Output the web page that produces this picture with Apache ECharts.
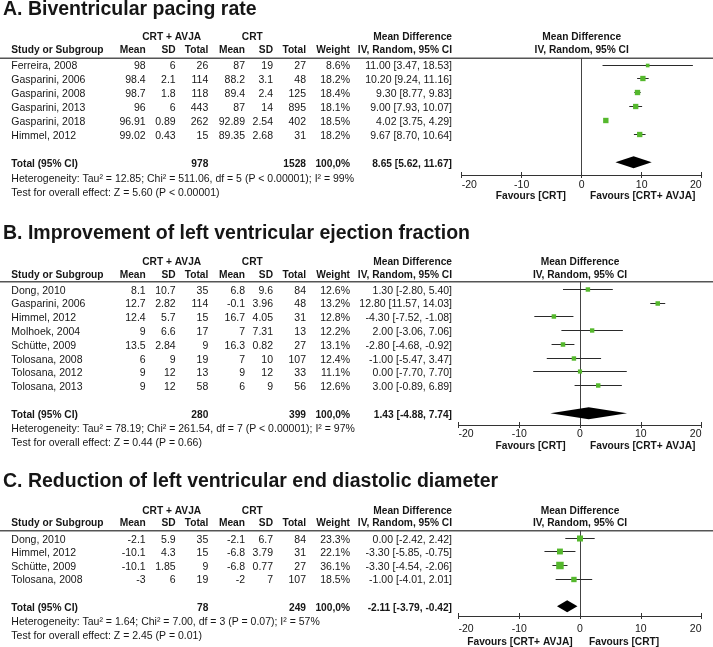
<!DOCTYPE html>
<html>
<head>
<meta charset="utf-8">
<script src="https://cdn.jsdelivr.net/npm/echarts@6/dist/echarts.min.js"></script>
<style>html,body{margin:0;padding:0;background:#fff;}#c{width:713px;height:647px;}</style>
</head>
<body>
<div id="c"></div>
<script>
// ---------- DATA ----------
const xTicks = [-20, -10, 0, 10, 20];
const colHeaders = ['Study or Subgroup', 'Mean', 'SD', 'Total', 'Mean', 'SD', 'Total', 'Weight'];
const groupHeaders = ['CRT + AVJA', 'CRT'];
const mdHeader = ['Mean Difference', 'IV, Random, 95% CI'];

const A_title = 'A. Biventricular pacing rate';
const A_study = ['Ferreira, 2008', 'Gasparini, 2006', 'Gasparini, 2008', 'Gasparini, 2013', 'Gasparini, 2018', 'Himmel, 2012'];
const A_expMean = [98, 98.4, 98.7, 96, 96.91, 99.02];
const A_expSD = [6, 2.1, 1.8, 6, 0.89, 0.43];
const A_expN = [26, 114, 118, 443, 262, 15];
const A_ctlMean = [87, 88.2, 89.4, 87, 92.89, 89.35];
const A_ctlSD = [19, 3.1, 2.4, 14, 2.54, 2.68];
const A_ctlN = [27, 48, 125, 895, 402, 31];
const A_weight = [8.6, 18.2, 18.4, 18.1, 18.5, 18.2];
const A_md = [11.00, 10.20, 9.30, 9.00, 4.02, 9.67];
const A_lo = [3.47, 9.24, 8.77, 7.93, 3.75, 8.70];
const A_hi = [18.53, 11.16, 9.83, 10.07, 4.29, 10.64];
const A_total = ['978', '1528', '100,0%'];
const A_pooled = [8.65, 5.62, 11.67];
const A_het = 'Heterogeneity: Tau\u00b2 = 12.85; Chi\u00b2 = 511.06, df = 5 (P < 0.00001); I\u00b2 = 99%';
const A_test = 'Test for overall effect: Z = 5.60 (P < 0.00001)';
const A_favours = ['Favours [CRT]', 'Favours [CRT+ AVJA]'];

const B_title = 'B. Improvement of left ventricular ejection fraction';
const B_study = ['Dong, 2010', 'Gasparini, 2006', 'Himmel, 2012', 'Molhoek, 2004', 'Sch\u00fctte, 2009', 'Tolosana, 2008', 'Tolosana, 2012', 'Tolosana, 2013'];
const B_expMean = [8.1, 12.7, 12.4, 9, 13.5, 6, 9, 9];
const B_expSD = [10.7, 2.82, 5.7, 6.6, 2.84, 9, 12, 12];
const B_expN = [35, 114, 15, 17, 9, 19, 13, 58];
const B_ctlMean = [6.8, -0.1, 16.7, 7, 16.3, 7, 9, 6];
const B_ctlSD = [9.6, 3.96, 4.05, 7.31, 0.82, 10, 12, 9];
const B_ctlN = [84, 48, 31, 13, 27, 107, 33, 56];
const B_weight = [12.6, 13.2, 12.8, 12.2, 13.1, 12.4, 11.1, 12.6];
const B_md = [1.30, 12.80, -4.30, 2.00, -2.80, -1.00, 0.00, 3.00];
const B_lo = [-2.80, 11.57, -7.52, -3.06, -4.68, -5.47, -7.70, -0.89];
const B_hi = [5.40, 14.03, -1.08, 7.06, -0.92, 3.47, 7.70, 6.89];
const B_total = ['280', '399', '100,0%'];
const B_pooled = [1.43, -4.88, 7.74];
const B_het = 'Heterogeneity: Tau\u00b2 = 78.19; Chi\u00b2 = 261.54, df = 7 (P < 0.00001); I\u00b2 = 97%';
const B_test = 'Test for overall effect: Z = 0.44 (P = 0.66)';
const B_favours = ['Favours [CRT]', 'Favours [CRT+ AVJA]'];

const C_title = 'C. Reduction of left ventricular end diastolic diameter';
const C_study = ['Dong, 2010', 'Himmel, 2012', 'Sch\u00fctte, 2009', 'Tolosana, 2008'];
const C_expMean = [-2.1, -10.1, -10.1, -3];
const C_expSD = [5.9, 4.3, 1.85, 6];
const C_expN = [35, 15, 9, 19];
const C_ctlMean = [-2.1, -6.8, -6.8, -2];
const C_ctlSD = [6.7, 3.79, 0.77, 7];
const C_ctlN = [84, 31, 27, 107];
const C_weight = [23.3, 22.1, 36.1, 18.5];
const C_md = [0.00, -3.30, -3.30, -1.00];
const C_lo = [-2.42, -5.85, -4.54, -4.01];
const C_hi = [2.42, -0.75, -2.06, 2.01];
const C_total = ['78', '249', '100,0%'];
const C_pooled = [-2.11, -3.79, -0.42];
const C_het = 'Heterogeneity: Tau\u00b2 = 1.64; Chi\u00b2 = 7.00, df = 3 (P = 0.07); I\u00b2 = 57%';
const C_test = 'Test for overall effect: Z = 2.45 (P = 0.01)';
const C_favours = ['Favours [CRT+ AVJA]', 'Favours [CRT]'];

// ---------- LAYOUT ----------
const FAM = '"Liberation Sans", Arial, Helvetica, sans-serif';
const TXT = '#161616';
const GREEN = '#55b82d';
const fReg = '10.5px ' + FAM;
const fBold = 'bold 10.2px ' + FAM;
const colRight = [null, 145.7, 175.7, 208.3, 245, 273, 306, 350];
const studyX = 11.3;
const mdRight = 452;
const grpCenter = [171.7, 252.3];

const layouts = [
  {titleY: 10, h1: 36.7, h2: 50.5, lineY: 58.3, row0: 65, step: 13.9, totIdx: 7, axisY: 175, left: 461.7, right: 701.7, hetY: 179, testY: 192.7, tickMargin: 4.5, favY: 196.5, favOff: [-15.7, 8.3]},
  {titleY: 233.5, h1: 262.3, h2: 275, lineY: 281.7, row0: 289.3, step: 13.77, totIdx: 9, axisY: 425, left: 458.5, right: 701.5, hetY: 429, testY: 443, tickMargin: 4, favY: 446.5, favOff: [-14.3, 10]},
  {titleY: 481.5, h1: 511, h2: 523.3, lineY: 530.7, row0: 538.3, step: 13.6, totIdx: 5, axisY: 616, left: 458.5, right: 701.5, hetY: 622.3, testY: 636, tickMargin: 8, favY: 642, favOff: [-7.3, 9]}
];

const panels = [
  {title: A_title, study: A_study, em: A_expMean, es: A_expSD, en: A_expN, cm: A_ctlMean, cs: A_ctlSD, cn: A_ctlN, w: A_weight, md: A_md, lo: A_lo, hi: A_hi, total: A_total, pooled: A_pooled, het: A_het, test: A_test, fav: A_favours},
  {title: B_title, study: B_study, em: B_expMean, es: B_expSD, en: B_expN, cm: B_ctlMean, cs: B_ctlSD, cn: B_ctlN, w: B_weight, md: B_md, lo: B_lo, hi: B_hi, total: B_total, pooled: B_pooled, het: B_het, test: B_test, fav: B_favours},
  {title: C_title, study: C_study, em: C_expMean, es: C_expSD, en: C_expN, cm: C_ctlMean, cs: C_ctlSD, cn: C_ctlN, w: C_weight, md: C_md, lo: C_lo, hi: C_hi, total: C_total, pooled: C_pooled, het: C_het, test: C_test, fav: C_favours}
];

function studyItem(params, api) {
  const row = api.value(3);
  const c = api.coord([api.value(0), row]);
  const a = api.coord([api.value(1), row]);
  const b = api.coord([api.value(2), row]);
  const y = Math.round(c[1] - 0.5) + 0.5;
  const s = Math.max(3, 1.25 * Math.sqrt(api.value(4)));
  return {type: 'group', children: [
    {type: 'line', shape: {x1: a[0], y1: y, x2: b[0], y2: y}, style: {stroke: '#2a2a2a', lineWidth: 1}},
    {type: 'rect', shape: {x: c[0] - s / 2, y: y - s / 2, width: s, height: s}, style: {fill: GREEN}}
  ]};
}
function diamondItem(params, api) {
  const row = api.value(3);
  const c = api.coord([api.value(0), row]);
  const a = api.coord([api.value(1), row]);
  const b = api.coord([api.value(2), row]);
  const h = 6;
  return {type: 'polygon', shape: {points: [[a[0], c[1]], [c[0], c[1] - h], [b[0], c[1]], [c[0], c[1] + h]]}, style: {fill: '#000'}};
}

const chart = echarts.init(document.getElementById('c'), null, {renderer: 'canvas'});
const option = {animation: false, backgroundColor: '#ffffff', grid: [], xAxis: [], yAxis: [], series: []};

panels.forEach((p, i) => {
  const L = layouts[i];
  option.grid.push({left: L.left, top: L.lineY, width: L.right - L.left, height: L.axisY - L.lineY});
  const axBase = {gridIndex: i, type: 'value', min: xTicks[0], max: xTicks[xTicks.length - 1], interval: xTicks[1] - xTicks[0], position: 'bottom', splitLine: {show: false}};
  option.xAxis.push(Object.assign({}, axBase, {
    axisLine: {show: true, onZero: false, lineStyle: {color: '#333', width: 1}},
    axisTick: {show: true, inside: true, length: 3, lineStyle: {color: '#333'}},
    axisLabel: {show: true, margin: L.tickMargin, fontSize: 10.5, fontFamily: FAM, color: TXT, alignMinLabel: 'left', alignMaxLabel: 'right',
      formatter: v => xTicks.indexOf(v) >= 0 ? String(v) : ''}
  }));
  option.xAxis.push(Object.assign({}, axBase, {
    axisLine: {show: false, onZero: false},
    axisTick: {show: true, inside: false, length: 3, lineStyle: {color: '#333'}},
    axisLabel: {show: false}
  }));
  option.yAxis.push({gridIndex: i, type: 'value', inverse: true,
    min: -(L.row0 - L.lineY) / L.step, max: (L.axisY - L.row0) / L.step,
    axisLine: {show: true, onZero: true, onZeroAxisIndex: 2 * i, lineStyle: {color: '#444', width: 1}},
    axisTick: {show: false}, axisLabel: {show: false}, splitLine: {show: false}});
  option.series.push({type: 'custom', xAxisIndex: 2 * i, yAxisIndex: i, clip: false,
    data: p.md.map((m, k) => [m, p.lo[k], p.hi[k], k, p.w[k]]),
    encode: {x: [0, 1, 2], y: 3}, renderItem: studyItem});
  option.series.push({type: 'custom', xAxisIndex: 2 * i, yAxisIndex: i, clip: false,
    data: [[p.pooled[0], p.pooled[1], p.pooled[2], L.totIdx]],
    encode: {x: [0, 1, 2], y: 3}, renderItem: diamondItem});
});
chart.setOption(option);

// ---------- TABLE TEXT ----------
function T(x, y, s, font, align) {
  return {type: 'text', x: x, y: y, silent: true,
    style: {text: s, font: font, fill: TXT, textAlign: align || 'left', textVerticalAlign: 'middle', align: align || 'left', verticalAlign: 'middle'}};
}
function ci(m, l, h) { return m.toFixed(2) + ' [' + l.toFixed(2) + ', ' + h.toFixed(2) + ']'; }

const g = [];
panels.forEach((p, i) => {
  const L = layouts[i];
  const zeroX = chart.convertToPixel({gridIndex: i}, [0, 0])[0];
  g.push(T(3, L.titleY, p.title, 'bold 19.5px ' + FAM, 'left'));
  g.push(T(grpCenter[0], L.h1, groupHeaders[0], fBold, 'center'));
  g.push(T(grpCenter[1], L.h1, groupHeaders[1], fBold, 'center'));
  g.push(T(mdRight, L.h1, mdHeader[0], fBold, 'right'));
  g.push(T(zeroX, L.h1, mdHeader[0], fBold, 'center'));
  g.push(T(studyX, L.h2, colHeaders[0], fBold, 'left'));
  for (let k = 1; k < colHeaders.length; k++) g.push(T(colRight[k], L.h2, colHeaders[k], fBold, 'right'));
  g.push(T(mdRight, L.h2, mdHeader[1], fBold, 'right'));
  g.push(T(zeroX, L.h2, mdHeader[1], fBold, 'center'));
  g.push({type: 'line', silent: true, shape: {x1: 0, y1: L.lineY, x2: 713, y2: L.lineY}, style: {stroke: '#555', lineWidth: 1.5}});
  p.study.forEach((s, k) => {
    const y = chart.convertToPixel({gridIndex: i}, [0, k])[1] + 1.5;
    g.push(T(studyX, y, s, fReg, 'left'));
    const vals = [String(p.em[k]), String(p.es[k]), String(p.en[k]), String(p.cm[k]), String(p.cs[k]), String(p.cn[k]), p.w[k].toFixed(1) + '%'];
    vals.forEach((v, j) => g.push(T(colRight[j + 1], y, v, fReg, 'right')));
    g.push(T(mdRight, y, ci(p.md[k], p.lo[k], p.hi[k]), fReg, 'right'));
  });
  const ty = chart.convertToPixel({gridIndex: i}, [0, L.totIdx])[1] + 1.5;
  g.push(T(studyX, ty, 'Total (95% CI)', fBold, 'left'));
  g.push(T(colRight[3], ty, p.total[0], fBold, 'right'));
  g.push(T(colRight[6], ty, p.total[1], fBold, 'right'));
  g.push(T(colRight[7], ty, p.total[2], fBold, 'right'));
  g.push(T(mdRight, ty, ci(p.pooled[0], p.pooled[1], p.pooled[2]), fBold, 'right'));
  g.push(T(studyX, L.hetY, p.het, fReg, 'left'));
  g.push(T(studyX, L.testY, p.test, fReg, 'left'));
  g.push(T(zeroX + L.favOff[0], L.favY, p.fav[0], fBold, 'right'));
  g.push(T(zeroX + L.favOff[1], L.favY, p.fav[1], fBold, 'left'));
});
chart.setOption({graphic: g});
</script>
</body>
</html>
